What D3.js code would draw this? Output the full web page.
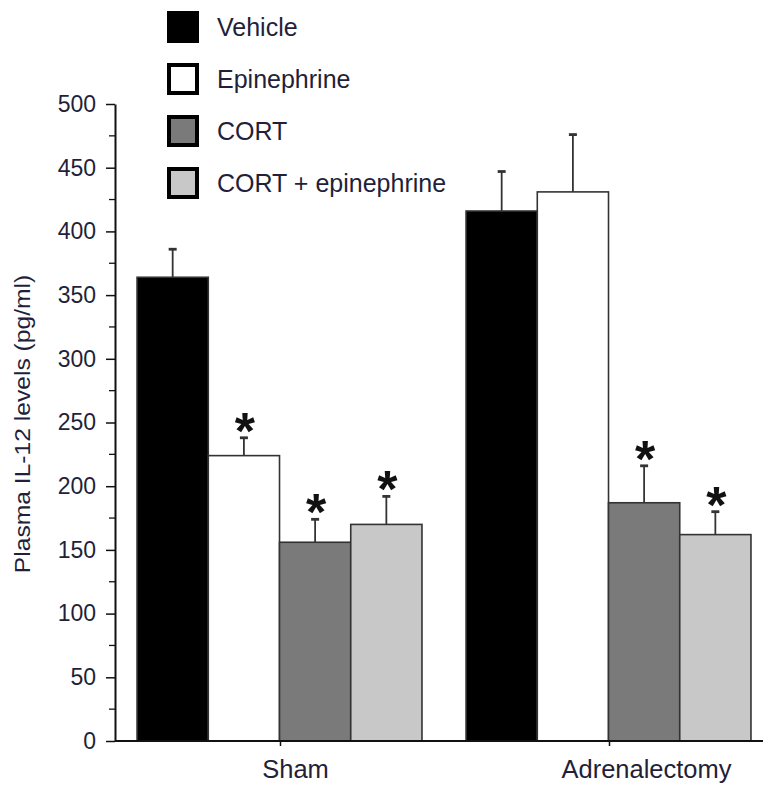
<!DOCTYPE html>
<html lang="en">
<head>
<meta charset="UTF-8">
<title>Plasma IL-12 levels</title>
<script src="https://d3js.org/d3.v7.min.js"></script>
<style>
    body { margin: 0; background: #fff; }
    svg { display: block; font-family: "Liberation Sans", Arial, sans-serif; }
    .y-axis .tick text { fill: #231f3a; font-size: 23px; }
    .x-axis .tick text { fill: #231f3a; font-size: 25.5px; }
    .legend-text { fill: #231f3a; font-size: 25px; }
    .ylabel { fill: #231f3a; font-size: 22px; }
</style>
</head>
<body>
<svg></svg>
<script>
    // Datos
    const groups = ["Sham", "Adrenalectomy"];
    const treatments = ["Vehicle", "Epinephrine", "CORT", "CORT + epinephrine"];
    const fills = ["#000000", "#ffffff", "#7a7a7a", "#c8c8c8"];
    const shamValues = [364, 224, 156, 170];
    const shamErrors = [22, 14, 18, 22];
    const adrValues = [416, 431, 187, 162];
    const adrErrors = [31, 45, 29, 18];
    const shamStars = [false, true, true, true];
    const adrStars = [false, false, true, true];
    const yTicks = [0, 50, 100, 150, 200, 250, 300, 350, 400, 450, 500];

    const values = [shamValues, adrValues];
    const errors = [shamErrors, adrErrors];
    const stars = [shamStars, adrStars];

    const data = [];
    groups.forEach((g, gi) => {
        treatments.forEach((t, ti) => {
            data.push({ group: g, treatment: t, value: values[gi][ti], err: errors[gi][ti], star: stars[gi][ti], fill: fills[ti] });
        });
    });

    const width = 763, height = 785;
    const marginLeft = 115, plotTop = 104, plotBottom = 741;

    const svg = d3.select("svg").attr("width", width).attr("height", height);

    const y = d3.scaleLinear().domain([0, 500]).range([plotBottom, plotTop]);
    const x0 = d3.scaleBand().domain(groups).range([116, 774]).padding(0);
    const bw = x0.bandwidth();
    const x1 = d3.scaleBand().domain(treatments).range([bw * 0.064, bw * 0.93]).padding(0);

    // barras
    const bars = svg.append("g");
    bars.selectAll("rect")
        .data(data)
        .enter()
        .append("rect")
        .attr("x", d => x0(d.group) + x1(d.treatment))
        .attr("y", d => y(d.value))
        .attr("width", x1.bandwidth())
        .attr("height", d => y(0) - y(d.value))
        .attr("fill", d => d.fill)
        .attr("stroke", "#333")
        .attr("stroke-width", 1.6);

    // barras de error
    const errG = svg.append("g").attr("stroke", "#333").attr("stroke-width", 1.8);
    data.forEach(d => {
        const cx = x0(d.group) + x1(d.treatment) + x1.bandwidth() / 2;
        errG.append("line").attr("x1", cx).attr("x2", cx).attr("y1", y(d.value)).attr("y2", y(d.value + d.err));
        errG.append("line").attr("x1", cx - 4).attr("x2", cx + 4).attr("y1", y(d.value + d.err)).attr("y2", y(d.value + d.err)).attr("stroke-width", 2.8);
        if (d.star) {
            svg.append("text")
                .attr("x", cx + 1)
                .attr("y", y(d.value + d.err) + 11)
                .attr("text-anchor", "middle")
                .attr("font-size", 52)
                .attr("font-weight", "bold")
                .attr("fill", "#111")
                .text("*");
        }
    });

    // eje Y
    const yAxis = svg.append("g")
        .attr("class", "y-axis")
        .attr("transform", `translate(${marginLeft},0)`)
        .call(d3.axisLeft(y).tickValues(yTicks).tickSize(9).tickSizeOuter(0).tickPadding(10));
    yAxis.select(".domain").attr("stroke", "#111").attr("stroke-width", 2);
    yAxis.selectAll(".tick line").attr("stroke", "#111").attr("stroke-width", 1.5);

    // ticks menores
    svg.append("g").selectAll("line")
        .data(d3.range(25, 500, 50))
        .enter()
        .append("line")
        .attr("x1", marginLeft - 6).attr("x2", marginLeft)
        .attr("y1", d => y(d)).attr("y2", d => y(d))
        .attr("stroke", "#111").attr("stroke-width", 1.3);

    // eje X
    const labelNudge = [15, 37];
    const xAxis = svg.append("g")
        .attr("class", "x-axis")
        .attr("transform", `translate(0,${plotBottom})`)
        .call(d3.axisBottom(x0).tickSize(5).tickSizeOuter(0).tickPadding(14));
    xAxis.select(".domain").attr("stroke", "#111").attr("stroke-width", 2)
        .attr("d", `M${marginLeft},0H${width}`);
    xAxis.selectAll(".tick line").attr("stroke", "#111").attr("stroke-width", 1.5);
    xAxis.selectAll(".tick text").attr("dx", (d, i) => labelNudge[i]);

    // titulo eje Y
    svg.append("text")
        .attr("class", "ylabel")
        .attr("transform", `translate(30,424) rotate(-90) scale(1.12,1)`)
        .attr("text-anchor", "middle")
        .text("Plasma IL-12 levels (pg/ml)");

    // leyenda
    const legend = svg.append("g").attr("transform", "translate(167,11)");
    const items = legend.selectAll("g")
        .data(treatments)
        .enter()
        .append("g")
        .attr("transform", (d, i) => `translate(0,${i * 52})`);
    items.append("rect")
        .attr("x", 2).attr("y", 2)
        .attr("width", 28).attr("height", 28)
        .attr("fill", (d, i) => fills[i])
        .attr("stroke", "#000")
        .attr("stroke-width", 4);
    items.append("text")
        .attr("class", "legend-text")
        .attr("x", 50)
        .attr("y", 25)
        .text(d => d);
</script>
</body>
</html>
